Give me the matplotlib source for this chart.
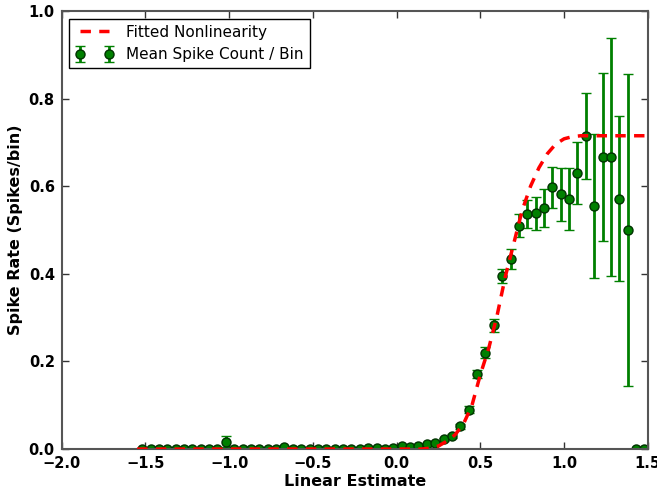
import matplotlib
matplotlib.use("Agg")
import matplotlib.pyplot as plt
import numpy as np

# Binned data (bin centers, mean spike count, error)
bin_centers = [-1.52, -1.47, -1.42, -1.37, -1.32, -1.27, -1.22, -1.17, -1.12, -1.07,
               -1.02, -0.97, -0.92, -0.87, -0.82, -0.77, -0.72, -0.67, -0.62, -0.57,
               -0.52, -0.47, -0.42, -0.37, -0.32, -0.27, -0.22, -0.17, -0.12, -0.07,
               -0.02, 0.03, 0.08, 0.13, 0.18, 0.23, 0.28, 0.33, 0.38, 0.43,
               0.48, 0.53, 0.58, 0.63, 0.68, 0.73, 0.78, 0.83, 0.88, 0.93,
               0.98, 1.03, 1.08, 1.13, 1.18, 1.23, 1.28, 1.33, 1.38, 1.43, 1.48]
spike_rate = [0.0, 0.0, 0.0, 0.0, 0.0, 0.0, 0.0, 0.0, 0.0, 0.0,
              0.017, 0.0, 0.0, 0.0, 0.0, 0.0, 0.0, 0.004, 0.0, 0.001,
              0.001, 0.0, 0.001, 0.001, 0.0, 0.001, 0.001, 0.002, 0.002, 0.001,
              0.002, 0.007, 0.004, 0.006, 0.011, 0.014, 0.022, 0.030, 0.052, 0.090,
              0.171, 0.220, 0.282, 0.395, 0.434, 0.510, 0.536, 0.538, 0.550, 0.597,
              0.581, 0.571, 0.630, 0.715, 0.555, 0.667, 0.667, 0.571, 0.500, 0.0, 0.0]
spike_err = [0.001, 0.001, 0.001, 0.001, 0.001, 0.001, 0.001, 0.001, 0.001, 0.001,
             0.013, 0.001, 0.001, 0.001, 0.001, 0.001, 0.001, 0.003, 0.001, 0.002,
             0.002, 0.001, 0.002, 0.002, 0.001, 0.002, 0.002, 0.002, 0.002, 0.002,
             0.002, 0.003, 0.002, 0.003, 0.003, 0.004, 0.004, 0.005, 0.006, 0.008,
             0.010, 0.012, 0.014, 0.016, 0.022, 0.027, 0.032, 0.038, 0.043, 0.046,
             0.060, 0.070, 0.070, 0.098, 0.165, 0.192, 0.272, 0.188, 0.355, 0.0, 0.0]

# Fitted nonlinearity
fit_x = [-1.55, -1.0, -0.5, 0.0, 0.15, 0.20, 0.25, 0.30, 0.35, 0.40, 0.45, 0.50,
         0.55, 0.60, 0.65, 0.70, 0.75, 0.80, 0.85, 0.90, 0.95, 1.00, 1.05, 1.10,
         1.20, 1.30, 1.40, 1.50]
fit_y = [0.0, 0.0, 0.0, 0.0, 0.0, 0.002, 0.007, 0.018, 0.033, 0.058, 0.100, 0.170,
         0.230, 0.305, 0.395, 0.470, 0.545, 0.600, 0.642, 0.674, 0.696, 0.708, 0.713, 0.715,
         0.715, 0.715, 0.715, 0.715]

x_ticks = [-2.0, -1.5, -1.0, -0.5, 0.0, 0.5, 1.0, 1.5]
y_ticks = [0.0, 0.2, 0.4, 0.6, 0.8, 1.0]

plt.rcParams['font.family'] = ['DejaVu Sans']
fig = plt.figure(figsize=(6.57, 4.94), dpi=100)
ax = fig.add_axes([0.094, 0.091, 0.892, 0.887])

ax.errorbar(bin_centers, spike_rate, yerr=spike_err, fmt='o', color='green',
            ecolor='green', markeredgecolor='#003300', markersize=6.5, elinewidth=2,
            capsize=3.5, capthick=1, label='Mean Spike Count / Bin', zorder=2)
ax.plot(fit_x, fit_y, '--', color='red', lw=2.5, dashes=(3, 2.4),
        label='Fitted Nonlinearity', zorder=3)

ax.set_xlim(-2.0, 1.5)
ax.set_ylim(0.0, 1.0)
ax.set_xticks(x_ticks)
ax.set_yticks(y_ticks)
ax.set_xticklabels([f"{v:.1f}".replace('-', '\u2212') for v in x_ticks])
ax.set_yticklabels([f"{v:.1f}" for v in y_ticks])
ax.tick_params(direction='in', top=True, right=True, length=5, width=1,
               color='#333333', labelsize=10.5, pad=5)
for lab in ax.get_xticklabels() + ax.get_yticklabels():
    lab.set_fontweight('bold')
for sp in ax.spines.values():
    sp.set_color('#555555')
    sp.set_linewidth(1.5)

ax.set_xlabel('Linear Estimate', fontsize=11.5, fontweight='bold', labelpad=2)
ax.set_ylabel('Spike Rate (Spikes/bin)', fontsize=11.5, fontweight='bold', labelpad=4)

leg = ax.legend(loc='upper left', numpoints=2, fontsize=11, fancybox=False,
                framealpha=1, edgecolor='black', borderpad=0.4, handlelength=2.5)
leg.get_frame().set_linewidth(1.0)

fig.savefig('out.png', dpi=100, facecolor='white')
